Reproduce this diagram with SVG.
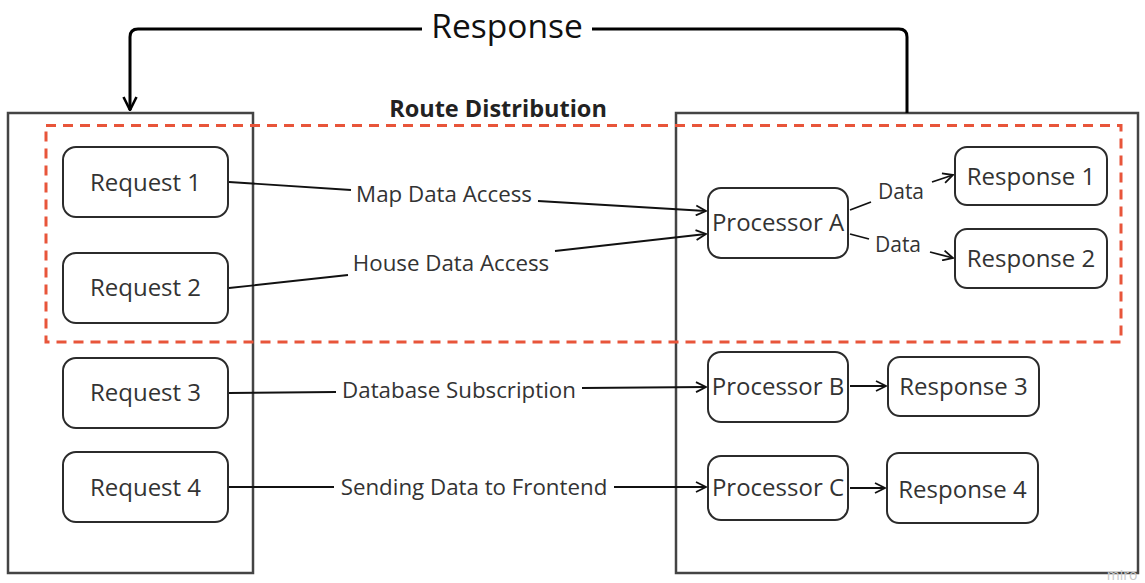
<svg xmlns="http://www.w3.org/2000/svg" width="1145" height="583" viewBox="0 0 1145 583">
<defs>
<style>
.container{fill:none;stroke:#444;stroke-width:2.5}
.node rect{fill:#fff;stroke:#2b2b2b;stroke-width:2}
.node text{font-family:"Open Sans","Liberation Sans",sans-serif;font-size:24px;fill:#333;text-anchor:middle;dominant-baseline:central}
.lbl{font-family:"Open Sans","Liberation Sans",sans-serif;font-size:22.3px;fill:#333;text-anchor:middle;dominant-baseline:central}
.small{font-size:21px}
.conn{fill:none;stroke:#111;stroke-width:1.8}
.big{fill:none;stroke:#000;stroke-width:3}
</style>
<marker id="arr" viewBox="0 0 12 12" refX="11" refY="6" markerWidth="12" markerHeight="12" markerUnits="userSpaceOnUse" orient="auto">
<path d="M1,1 L11,6 L1,11" fill="none" stroke="#111" stroke-width="1.8"/>
</marker>
<marker id="arrBig" viewBox="0 0 16 16" refX="15" refY="8" markerWidth="16" markerHeight="16" markerUnits="userSpaceOnUse" orient="auto">
<path d="M2,1.5 L15,8 L2,14.5" fill="none" stroke="#000" stroke-width="2.6"/>
</marker>
</defs>
<rect width="1145" height="583" fill="#fff"/>

<g id="left-container"><rect class="container" x="8" y="113" width="245" height="460"/></g>
<g id="right-container"><rect class="container" x="676" y="113" width="462" height="460"/></g>

<g id="route-distribution">
<rect x="46" y="125.5" width="1075" height="216.5" fill="none" stroke="#e8553a" stroke-width="3" stroke-dasharray="10 7"/>
<text x="498" y="108" font-family="'Open Sans','Liberation Sans',sans-serif" font-size="23.5" font-weight="bold" fill="#222" text-anchor="middle" dominant-baseline="central">Route Distribution</text>
</g>

<g id="response-loop">
<path class="big" d="M422,29 H138 Q130,29 130,37 V110" marker-end="url(#arrBig)"/>
<path class="big" d="M592,29 H899 Q907,29 907,37 V113"/>
<text x="507" y="25" font-family="'Open Sans','Liberation Sans',sans-serif" font-size="33.5" fill="#111" text-anchor="middle" dominant-baseline="central">Response</text>
</g>

<g id="request1" class="node"><rect x="63" y="147" width="165" height="70" rx="13"/><text x="145.5" y="181">Request 1</text></g>
<g id="request2" class="node"><rect x="63" y="253" width="165" height="70" rx="13"/><text x="145.5" y="286">Request 2</text></g>
<g id="request3" class="node"><rect x="63" y="358" width="165" height="70" rx="13"/><text x="145.5" y="391">Request 3</text></g>
<g id="request4" class="node"><rect x="63" y="452" width="165" height="70" rx="13"/><text x="145.5" y="486">Request 4</text></g>

<g id="processorA" class="node"><rect x="708" y="188" width="140" height="70" rx="13"/><text x="778" y="221">Processor A</text></g>
<g id="processorB" class="node"><rect x="708" y="352" width="140" height="70" rx="13"/><text x="778" y="385">Processor B</text></g>
<g id="processorC" class="node"><rect x="708" y="456" width="140" height="64" rx="13"/><text x="778" y="486">Processor C</text></g>

<g id="response1" class="node"><rect x="955" y="147" width="152" height="58" rx="12"/><text x="1031" y="175">Response 1</text></g>
<g id="response2" class="node"><rect x="955" y="229" width="152" height="59" rx="12"/><text x="1031" y="257">Response 2</text></g>
<g id="response3" class="node"><rect x="888" y="357" width="151" height="59" rx="12"/><text x="963.5" y="385">Response 3</text></g>
<g id="response4" class="node"><rect x="887" y="453" width="151" height="70" rx="12"/><text x="962.5" y="488">Response 4</text></g>

<g id="connectors">
<path class="conn" d="M229,182 L351,190"/>
<path class="conn" d="M538,201 L706,211" marker-end="url(#arr)"/>
<text class="lbl" x="444" y="193">Map Data Access</text>

<path class="conn" d="M229,288 L348,275"/>
<path class="conn" d="M555,251 L706,234" marker-end="url(#arr)"/>
<text class="lbl" x="451" y="262">House Data Access</text>

<path class="conn" d="M229,393 L336,392"/>
<path class="conn" d="M582,388 L706,387" marker-end="url(#arr)"/>
<text class="lbl" x="459" y="389">Database Subscription</text>

<path class="conn" d="M229,487 L334,487"/>
<path class="conn" d="M614,487 L706,487" marker-end="url(#arr)"/>
<text class="lbl" x="474" y="486">Sending Data to Frontend</text>

<path class="conn" d="M850,210 L871,202"/>
<path class="conn" d="M932,182 L953,175" marker-end="url(#arr)"/>
<text class="lbl small" x="901" y="191">Data</text>

<path class="conn" d="M850,234 L869,239"/>
<path class="conn" d="M930,252 L953,258" marker-end="url(#arr)"/>
<text class="lbl small" x="898" y="244">Data</text>

<path class="conn" d="M850,386 L886,386" marker-end="url(#arr)"/>
<path class="conn" d="M850,488 L885,488" marker-end="url(#arr)"/>
</g>

<text x="1122" y="580" font-family="'Open Sans','Liberation Sans',sans-serif" font-size="14" fill="#c8c8c8" text-anchor="middle">miro</text>
</svg>
